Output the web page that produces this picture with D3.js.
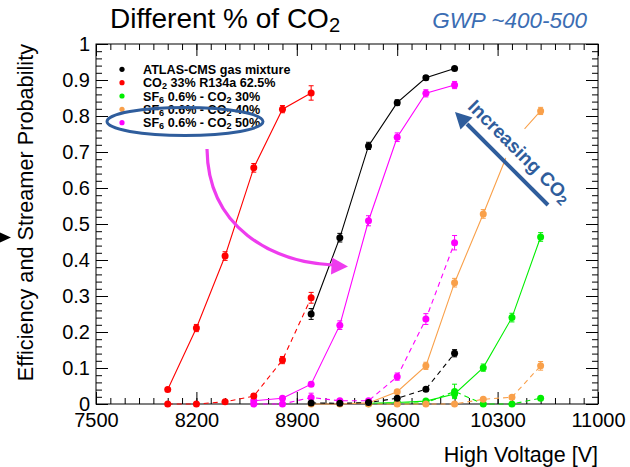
<!DOCTYPE html>
<html><head><meta charset="utf-8">
<script src="https://cdn.jsdelivr.net/npm/d3@7"></script>
<style>
body{margin:0;background:#fff}
svg{display:block}
text{font-family:"Liberation Sans",Arial,Helvetica,sans-serif}
</style>
</head><body>
<svg id="c" width="630" height="467"></svg>
<script>
// ---------------- data ----------------
const xTickValues = [7500, 8200, 8900, 9600, 10300, 11000];
const xTickLabels = ["7500", "8200", "8900", "9600", "10300", "11000"];
const yTickValues = [0, 0.1, 0.2, 0.3, 0.4, 0.5, 0.6, 0.7, 0.8, 0.9, 1];
const yTickLabels = ["0", "0.1", "0.2", "0.3", "0.4", "0.5", "0.6", "0.7", "0.8", "0.9", "1"];

const legendLabels = ["ATLAS-CMS gas mixture", "CO_2 33% R134a 62.5%", "SF_6 0.6% - CO_2 30%", "SF_6 0.6% - CO_2 40%", "SF_6 0.6% - CO_2 50%"];
const legendColors = ["#000000", "#ff0000", "#00ee00", "#f9a04a", "#ff00ff"];

// ATLAS-CMS
const voltAtlas   = [9000, 9200, 9400, 9600, 9800, 10000];
const effAtlas    = [0.250, 0.462, 0.717, 0.837, 0.906, 0.932];
const effErrAtlas = [0.015, 0.012, 0.010, 0.008, 0.006, 0.004];
const strAtlas    = [0.003, 0.002, 0.004, 0.016, 0.041, 0.141];
const strErrAtlas = [0.002, 0.002, 0.002, 0.004, 0.005, 0.010];
// CO2 33% R134a 62.5%
const voltCO2     = [8000, 8200, 8400, 8600, 8800, 9000];
const effCO2      = [0.040, 0.211, 0.411, 0.656, 0.819, 0.864];
const effErrCO2   = [0.005, 0.010, 0.012, 0.012, 0.010, 0.020];
const strCO2      = [0.000, 0.000, 0.006, 0.022, 0.122, 0.295];
const strErrCO2   = [0.000, 0.000, 0.003, 0.006, 0.010, 0.015];
// SF6 0.6% - CO2 30%
const voltSF30    = [9400, 9600, 9800, 10000, 10200, 10400, 10600];
const effSF30     = [0.002, 0.004, 0.008, 0.028, 0.101, 0.240, 0.464];
const effErrSF30  = [0.001, 0.002, 0.003, 0.010, 0.010, 0.012, 0.012];
const strSF30     = [0.001, 0.002, 0.003, 0.035, 0.000, 0.000, 0.016];
const strErrSF30  = [0.000, 0.000, 0.000, 0.020, 0.000, 0.000, 0.004];
// SF6 0.6% - CO2 40%
const voltSF40    = [9000, 9200, 9400, 9600, 9800, 10000, 10200, 10400, 10600];
const effSF40     = [0.000, 0.000, 0.003, 0.034, 0.106, 0.337, 0.528, 0.725, 0.814];
const effErrSF40  = [0.000, 0.000, 0.002, 0.005, 0.010, 0.012, 0.012, 0.010, 0.010];
const voltSF40s   = [9400, 9600, 9800, 10000, 10200, 10400, 10600];
const strSF40     = [0.000, 0.000, 0.000, 0.000, 0.013, 0.019, 0.106];
const strErrSF40  = [0.000, 0.000, 0.000, 0.000, 0.003, 0.004, 0.012];
// SF6 0.6% - CO2 50%
const voltSF50    = [8600, 8800, 9000, 9200, 9400, 9600, 9800, 10000];
const effSF50     = [0.009, 0.016, 0.055, 0.219, 0.509, 0.741, 0.863, 0.886];
const effErrSF50  = [0.003, 0.004, 0.006, 0.012, 0.014, 0.012, 0.010, 0.010];
const strSF50     = [0.000, 0.000, 0.018, 0.009, 0.009, 0.076, 0.236, 0.448];
const strErrSF50  = [0.001, 0.000, 0.012, 0.003, 0.003, 0.010, 0.015, 0.020];

const series = [
  {c: legendColors[2], v: voltSF30, eff: effSF30, effErr: effErrSF30, sv: voltSF30, str: strSF30, strErr: strErrSF30},
  {c: legendColors[3], v: voltSF40, eff: effSF40, effErr: effErrSF40, sv: voltSF40s, str: strSF40, strErr: strErrSF40},
  {c: legendColors[4], v: voltSF50, eff: effSF50, effErr: effErrSF50, sv: voltSF50, str: strSF50, strErr: strErrSF50},
  {c: legendColors[1], v: voltCO2, eff: effCO2, effErr: effErrCO2, sv: voltCO2, str: strCO2, strErr: strErrCO2},
  {c: legendColors[0], v: voltAtlas, eff: effAtlas, effErr: effErrAtlas, sv: voltAtlas, str: strAtlas, strErr: strErrAtlas}
];

// ---------------- chart ----------------
const svg = d3.select("#c");
const x = d3.scaleLinear().domain([7500, 11000]).range([96, 598]);
const y = d3.scaleLinear().domain([0, 1]).range([404, 44]);

function rich(sel, str) {
  const parts = str.split(/(_\d)/);
  let shifted = false;
  parts.forEach(p => {
    if (!p) return;
    if (p[0] === "_") {
      sel.append("tspan").attr("dy", "0.22em").attr("font-size", "72%").text(p.slice(1));
      shifted = true;
    } else {
      const t = sel.append("tspan").text(p);
      if (shifted) { t.attr("dy", "-0.16em"); shifted = false; }
    }
  });
}

// axes
const minorX = d3.range(7500, 11001, 100);
const minorY = d3.range(0, 1.0001, 0.02);
function styleAxis(g) {
  g.select(".domain").remove();
  g.selectAll("line").attr("stroke", "#000").attr("stroke-width", 1);
  g.selectAll("text").attr("font-size", 20).attr("fill", "#000");
}
svg.append("g").attr("transform", "translate(0,404)")
  .call(d3.axisBottom(x).tickValues(minorX).tickSize(-6).tickFormat("")).call(styleAxis);
svg.append("g").attr("transform", "translate(0,404)")
  .call(d3.axisBottom(x).tickValues(xTickValues).tickSize(-12).tickPadding(9).tickFormat((d, i) => xTickLabels[i])).call(styleAxis);
svg.append("g").attr("transform", "translate(0,44)")
  .call(d3.axisTop(x).tickValues(minorX).tickSize(-6).tickFormat("")).call(styleAxis);
svg.append("g").attr("transform", "translate(0,44)")
  .call(d3.axisTop(x).tickValues(xTickValues).tickSize(-12).tickFormat("")).call(styleAxis);
svg.append("g").attr("transform", "translate(96,0)")
  .call(d3.axisLeft(y).tickValues(minorY).tickSize(-6).tickFormat("")).call(styleAxis);
svg.append("g").attr("transform", "translate(96,0)")
  .call(d3.axisLeft(y).tickValues(yTickValues).tickSize(-12).tickPadding(6).tickFormat((d, i) => yTickLabels[i])).call(styleAxis);
svg.append("g").attr("transform", "translate(598,0)")
  .call(d3.axisRight(y).tickValues(minorY).tickSize(-6).tickFormat("")).call(styleAxis);
svg.append("g").attr("transform", "translate(598,0)")
  .call(d3.axisRight(y).tickValues(yTickValues).tickSize(-12).tickFormat("")).call(styleAxis);

svg.append("rect").attr("x", x(7500)).attr("y", y(1)).attr("width", x(11000) - x(7500)).attr("height", y(0) - y(1))
  .attr("fill", "none").attr("stroke", "#000").attr("stroke-width", 1);

// data
const line = d3.line().x(d => x(d[0])).y(d => y(d[1]));
const plot = svg.append("g");
function drawSet(g, color, xs, ys, es, dashed) {
  const pts = xs.map((v, i) => [v, ys[i], es[i]]);
  g.append("path").datum(pts).attr("d", line).attr("fill", "none").attr("stroke", color)
    .attr("stroke-width", 1.1).attr("stroke-dasharray", dashed ? "5,4" : null);
  const eb = g.append("g").selectAll("g").data(pts.filter(p => p[2] > 0)).join("g").attr("stroke", color).attr("stroke-width", 1);
  eb.append("line").attr("x1", d => x(d[0])).attr("x2", d => x(d[0])).attr("y1", d => y(d[1] - d[2])).attr("y2", d => y(d[1] + d[2]));
  eb.append("line").attr("x1", d => x(d[0]) - 2.5).attr("x2", d => x(d[0]) + 2.5).attr("y1", d => y(d[1] + d[2])).attr("y2", d => y(d[1] + d[2]));
  eb.append("line").attr("x1", d => x(d[0]) - 2.5).attr("x2", d => x(d[0]) + 2.5).attr("y1", d => y(d[1] - d[2])).attr("y2", d => y(d[1] - d[2]));
  g.append("g").selectAll("circle").data(pts).join("circle")
    .attr("cx", d => x(d[0])).attr("cy", d => y(d[1])).attr("r", 3.5).attr("fill", color);
}
series.forEach(s => {
  const g = plot.append("g");
  drawSet(g, s.c, s.sv, s.str, s.strErr, true);
  drawSet(g, s.c, s.v, s.eff, s.effErr, false);
});

// legend
const leg = svg.append("g");
legendLabels.forEach((lab, i) => {
  const yy = 69.3 + i * 13.35;
  leg.append("circle").attr("cx", 122).attr("cy", yy).attr("r", 2.6).attr("fill", legendColors[i]);
  const t = leg.append("text").attr("x", 143).attr("y", yy + 4.6).attr("font-size", 12.6).attr("font-weight", "bold").attr("fill", "#000");
  rich(t, lab);
});

// titles
const title = svg.append("text").attr("x", 110).attr("y", 28).attr("font-size", 28).attr("fill", "#000");
rich(title, "Different % of CO_2");
svg.append("text").attr("x", 587).attr("y", 28).attr("text-anchor", "end").attr("font-size", 22.5)
  .attr("font-style", "italic").attr("fill", "#3b6db3").text("GWP ~400-500");
svg.append("text").attr("transform", "translate(33,44) rotate(-90)").attr("text-anchor", "end")
  .attr("font-size", 21.7).attr("fill", "#000").text("Efficiency and Streamer Probability");
svg.append("text").attr("x", 598).attr("y", 462).attr("text-anchor", "end")
  .attr("font-size", 21.5).attr("fill", "#000").text("High Voltage [V]");

// left black pointer
svg.append("path").attr("d", "M0,232.5 L11,237.5 L0,242.5 Z").attr("fill", "#000");

// annotations
const blue = "#2f5d9c";
svg.append("ellipse").attr("cx", 185).attr("cy", 121.5).attr("rx", 78).attr("ry", 14)
  .attr("fill", "none").attr("stroke", blue).attr("stroke-width", 3);

// increasing CO2 arrow and text
const ann = svg.append("g").attr("transform", "translate(515,156) rotate(45)");
ann.append("rect").attr("x", -72).attr("y", -26).attr("width", 144).attr("height", 34).attr("fill", "#fff");
const it = ann.append("text").attr("text-anchor", "middle").attr("font-size", 19).attr("font-weight", "bold").attr("fill", blue);
rich(it, "Increasing CO_2");
svg.append("line").attr("x1", 548).attr("y1", 205).attr("x2", 467).attr("y2", 124)
  .attr("stroke", blue).attr("stroke-width", 4);
svg.append("path").attr("d", "M455,112 L472.5,117.5 L460.5,129.5 Z").attr("fill", blue);

// magenta curved arrow
const mag = "#ee3cee";
svg.append("path").attr("d", "M207,149 C208,228 272,262 333,265").attr("fill", "none")
  .attr("stroke", mag).attr("stroke-width", 3.2);
svg.append("path").attr("d", "M348,266.5 L332,257.5 L331,274.5 Z").attr("fill", mag);
</script>
</body></html>
